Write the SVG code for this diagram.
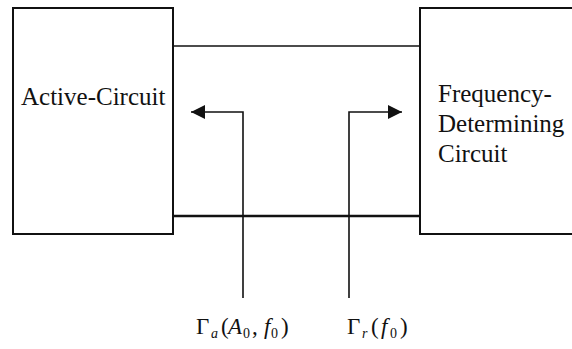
<svg xmlns="http://www.w3.org/2000/svg" width="572" height="349" viewBox="0 0 572 349">
<style>
.box{fill:#fff;stroke:#111;stroke-width:2}
.sub{font-size:14px}
.it{font-style:italic}
.wire{stroke:#111;fill:none}
</style>
<defs>
<marker id="ah" viewBox="0 0 14 14" refX="14" refY="7" markerWidth="14" markerHeight="14" markerUnits="userSpaceOnUse" orient="auto">
<path d="M0,0 L14,7 L0,14 Z" fill="#111"/>
</marker>
</defs>
<rect width="572" height="349" fill="#fff"/>
<g id="connectors">
<line class="wire" x1="173" y1="46" x2="420" y2="46" stroke-width="1.3"/>
<line class="wire" x1="173" y1="216" x2="420" y2="216" stroke-width="2.5"/>
<polyline class="wire" points="243,298 243,112 191,112" stroke-width="1.6" marker-end="url(#ah)"/>
<polyline class="wire" points="349,298 349,112 402,112" stroke-width="1.6" marker-end="url(#ah)"/>
</g>
<g id="active-circuit">
<rect class="box" x="13" y="8" width="160" height="226"/>
<text font-family="'Liberation Serif', 'Times New Roman', serif" font-size="25" fill="#111" x="21" y="105">Active-Circuit</text>
</g>
<g id="frequency-determining-circuit" font-family="'Liberation Serif', 'Times New Roman', serif" font-size="25" fill="#111">
<rect class="box" x="420" y="8" width="160" height="226"/>
<text x="438" y="102">Frequency-</text>
<text x="438" y="132">Determining</text>
<text x="438" y="162">Circuit</text>
</g>
<g id="label-gamma-a" font-family="'Liberation Serif', 'Times New Roman', serif" font-size="23" fill="#111">
<text x="196" y="334">Γ<tspan class="sub it" x="211" y="338">a</tspan><tspan x="221" y="334">(</tspan><tspan class="it" x="228">A</tspan><tspan class="sub" x="243" y="338">0</tspan><tspan x="252" y="334">,</tspan><tspan class="it" x="264">f</tspan><tspan class="sub" x="271" y="338">0</tspan><tspan x="281" y="334">)</tspan></text>
</g>
<g id="label-gamma-r" font-family="'Liberation Serif', 'Times New Roman', serif" font-size="23" fill="#111">
<text x="347" y="334">Γ<tspan class="sub it" x="362" y="338">r</tspan><tspan x="371" y="334">(</tspan><tspan class="it" x="381">f</tspan><tspan class="sub" x="390" y="338">0</tspan><tspan x="400" y="334">)</tspan></text>
</g>
</svg>
